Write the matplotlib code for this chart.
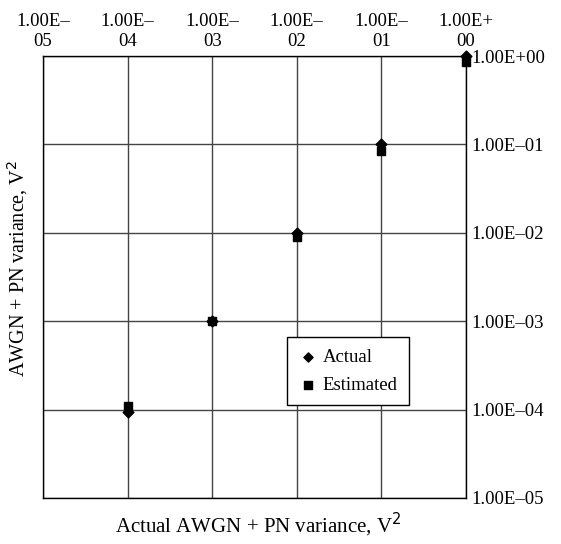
import numpy as np
import matplotlib.pyplot as plt

plt.rcParams['font.family'] = ['Liberation Serif', 'DejaVu Serif']

# Variance values (V^2)
actual_x = [1e-4, 1e-3, 1e-2, 1e-1, 1e0]
actual_y = [0.95e-4, 1e-3, 1.0e-2, 1.0e-1, 1e0]
estimated_x = [1e-4, 1e-3, 1e-2, 1e-1, 1e0]
estimated_y = [1.1e-4, 1e-3, 0.9e-2, 0.085, 0.85]

decades = [1e-5, 1e-4, 1e-3, 1e-2, 1e-1, 1e0]
x_labels = ["1.00E–\n05", "1.00E–\n04", "1.00E–\n03", "1.00E–\n02", "1.00E–\n01", "1.00E+\n00"]
y_labels = ["1.00E–05", "1.00E–04", "1.00E–03", "1.00E–02", "1.00E–01", "1.00E+00"]

fig = plt.figure(figsize=(5.61, 5.44), dpi=100)
ax = fig.add_axes([0.0766, 0.0846, 0.754, 0.8124])

ax.scatter(actual_x, actual_y, marker='D', s=30, color='black', label='Actual', zorder=3, clip_on=False)
ax.scatter(estimated_x, estimated_y, marker='s', s=36, color='black', label='Estimated', zorder=3, clip_on=False)

ax.set_xscale('log')
ax.set_yscale('log')
ax.set_xlim(1e-5, 1e0)
ax.set_ylim(1e-5, 1e0)

ax.xaxis.tick_top()
ax.yaxis.tick_right()
ax.set_xticks(decades)
ax.set_xticklabels(x_labels, fontsize=13.5, linespacing=1.3)
ax.set_yticks(decades)
ax.set_yticklabels(y_labels, fontsize=13.5)
ax.minorticks_off()
ax.tick_params(length=0, pad=4)

ax.grid(True, color='#444444', linewidth=1.0)
for sp in ax.spines.values():
    sp.set_color('black')
    sp.set_linewidth(1.0)

fig.text(0.46, 0.035, "Actual AWGN + PN variance, V$^2$", ha='center', va='center', fontsize=15)
fig.text(0.032, 0.507, "AWGN + PN variance, V$^2$", ha='center', va='center', rotation=90, fontsize=14.5)

leg = ax.legend(loc='lower left', bbox_to_anchor=(0.577, 0.21), borderaxespad=0, fontsize=13.5,
                frameon=True, fancybox=False, edgecolor='black', framealpha=1, handletextpad=0.3,
                borderpad=0.6, labelspacing=0.6, handlelength=1.0, markerscale=0.85)
leg.get_frame().set_linewidth(1.0)

fig.savefig('out.png', dpi=100)
